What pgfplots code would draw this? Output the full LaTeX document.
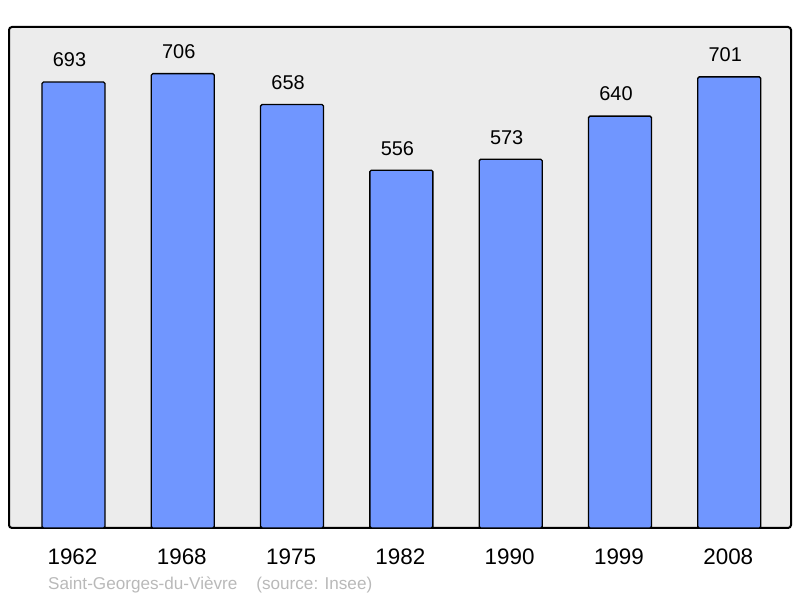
\documentclass[border=0pt]{standalone}
\usepackage{pgfplots}
\pgfplotsset{compat=1.18}
\usepackage{fontspec}
\setmainfont{Liberation Sans}
\definecolor{barblue}{RGB}{112,150,255}
\definecolor{bggray}{RGB}{236,236,236}
\definecolor{srcgray}{RGB}{185,185,185}
\begin{document}
\begin{tikzpicture}[x=1bp,y=1bp]
\path (0,0) rectangle (800,598);
\begin{axis}[
  at={(9bp,70bp)}, anchor=south west,
  width=782bp, height=501bp, scale only axis,
  xmin=-0.59, xmax=6.565, ymin=0, ymax=778.5,
  ybar, bar width=63bp,
  axis background/.style={fill=bggray},
  axis line style={line width=2bp, rounded corners=3bp},
  xtick=data, xticklabels={1962,1968,1975,1982,1990,1999,2008},
  ytick=\empty,
  major tick length=0pt,
  xticklabel style={font=\fontsize{22.5}{24}\selectfont, yshift=-17bp, xshift=-1bp},
  nodes near coords,
  nodes near coords style={font=\fontsize{20}{22}\selectfont, yshift=11bp, xshift=-4bp},
  /pgf/number format/assume math mode=true,
  clip=false,
]
\addplot[fill=barblue, draw=black, line width=1.3bp, rounded corners=1.5bp] coordinates {
(0,693) (1,706) (2,658) (3,556) (4,573) (5,640) (6,701)};
\end{axis}
\node[anchor=base west, text=srcgray, font=\fontsize{17.2}{20}\selectfont, inner sep=0] at (48bp,598bp-590bp) {Saint-Georges-du-Vièvre\hspace{19bp}(source: Insee)};
\end{tikzpicture}
\end{document}
